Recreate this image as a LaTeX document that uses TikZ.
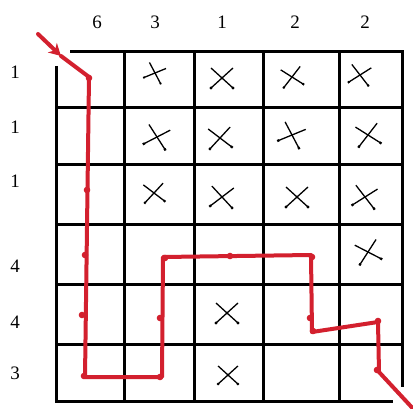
\documentclass[tikz,border=0pt]{standalone}
\usepackage{fontspec}
\setmainfont{Liberation Serif}
\usetikzlibrary{arrows.meta}
\definecolor{pathred}{HTML}{D3202E}
\tikzset{
  gridline/.style={line width=3pt, black},
  lbl/.style={font=\fontsize{19}{19}\selectfont, inner sep=0pt},
  redline/.style={line width=4pt, pathred, line join=round, line cap=round},
  blob/.style={fill=pathred, draw=none},
  pics/crossmark/.style={code={
    \draw[line width=1.3pt] (-11,-10) -- (11,10);
    \draw[line width=1.3pt] (-11,10) -- (11,-10);
    \fill (11,10) circle (1.6);
    \fill (-11,10) circle (1.6);
  }}
}
\begin{document}
\begin{tikzpicture}[x=1pt,y=-1pt]
\useasboundingbox (0,0) rectangle (413,409);
\fill[white] (0,0) rectangle (413,409);
% grid
\draw[gridline] (70,52) -- (404,52);
\draw[gridline] (56,66) -- (56,401) -- (393,401);
\draw[gridline] (402,52) -- (402,387);
\foreach \x in {124,194,263,339} \draw[gridline] (\x,52) -- (\x,401);
\foreach \y in {108,165,225,285,345} \draw[gridline] (56,\y) -- (402,\y);
% column labels
\node[lbl] (c1) at (97,22) {6};
\node[lbl] (c2) at (155,22) {3};
\node[lbl] (c3) at (222,22) {1};
\node[lbl] (c4) at (295,22) {2};
\node[lbl] (c5) at (365,22) {2};
% row labels
\node[lbl] (r1) at (15,72) {1};
\node[lbl] (r2) at (15,127) {1};
\node[lbl] (r3) at (15,181) {1};
\node[lbl] (r4) at (15,266) {4};
\node[lbl] (r5) at (15,322) {4};
\node[lbl] (r6) at (15,373) {3};
% crosses
\pic[rotate=-20,scale=0.8] at (155,73) {crossmark};
\pic[rotate=0] at (222,78) {crossmark};
\pic[rotate=10,scale=0.9] at (292,77) {crossmark};
\pic[rotate=-10,scale=0.9] at (360,75) {crossmark};
\pic[rotate=-15] at (157,137) {crossmark};
\pic[rotate=5] at (220,138) {crossmark};
\pic[rotate=-20] at (292,135) {crossmark};
\pic[rotate=10] at (368,135) {crossmark};
\pic[rotate=5,scale=0.9] at (154,193) {crossmark};
\pic[rotate=-5] at (222,197) {crossmark};
\pic[rotate=0] at (297,197) {crossmark};
\pic[rotate=-10] at (365,197) {crossmark};
\pic[rotate=15] at (368,252) {crossmark};
\pic[rotate=0] at (227,313) {crossmark};
\pic[rotate=0,scale=0.9] at (228,375) {crossmark};
% red path
\coordinate (s) at (38,34);
\coordinate (a) at (61,56);
\coordinate (p1) at (89,77);
\coordinate (p2) at (85,377);
\coordinate (p3) at (162,377);
\coordinate (p4) at (163,257);
\coordinate (p5) at (311,255);
\coordinate (p6) at (312,332);
\coordinate (p7) at (378,322);
\coordinate (p8) at (379,372);
\coordinate (p9) at (418,414);
\draw[redline, -{Stealth[length=12pt,width=13pt]}] (s) -- (a);
\draw[redline] (a) -- (p1) -- (p2) -- (p3) -- (p4) -- (p5) -- (p6) -- (p7) -- (p8) -- (p9);
\foreach \bx/\by in {89/78, 87/190, 85/255, 82/315, 84/376, 160/377, 160/318, 165/258, 230/256, 312/257, 310/318, 313/331, 378/321, 377/370}
  \fill[blob] (\bx,\by) circle (3.3);
\end{tikzpicture}
\end{document}
